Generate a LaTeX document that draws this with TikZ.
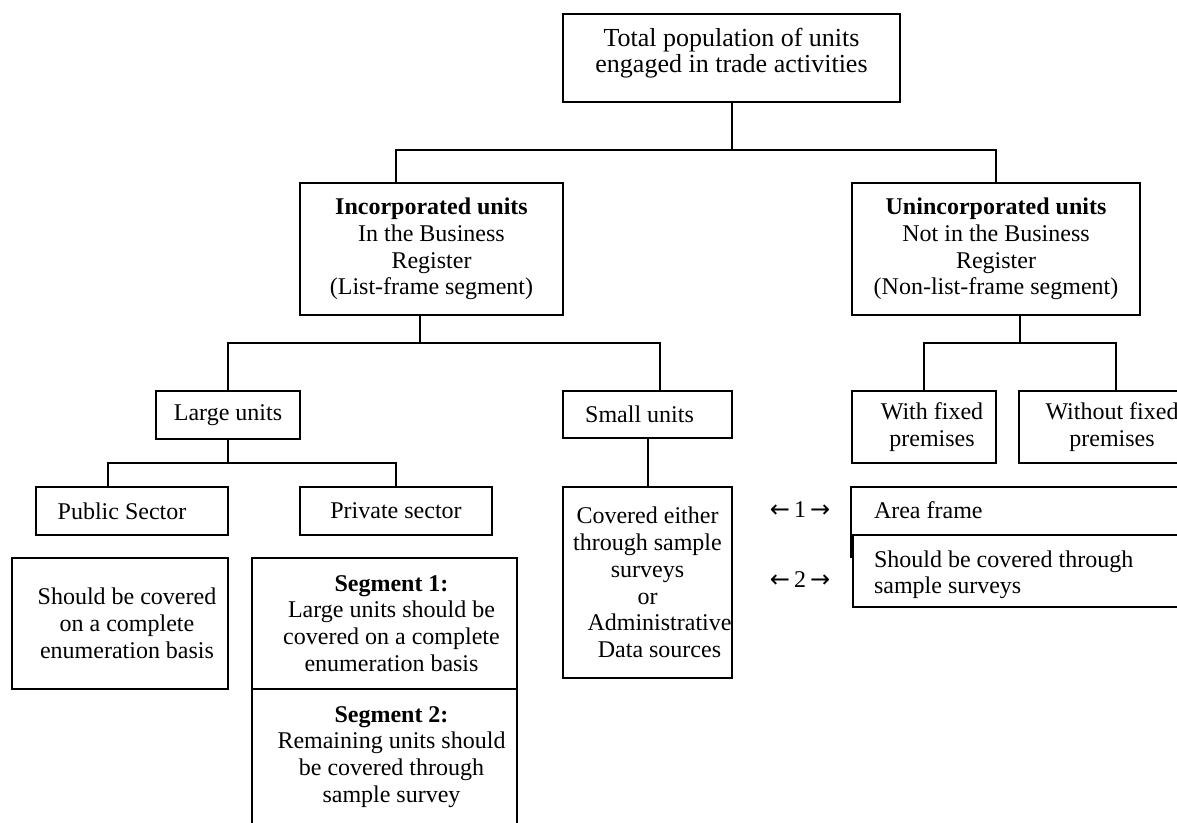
\documentclass[tikz,border=0pt]{standalone}
\usepackage{fontspec}
\setmainfont{Liberation Serif}
\newfontfamily\arrowfont{DejaVu Sans}
\begin{document}
\begin{tikzpicture}[x=0.5pt,y=-0.5pt,line width=1pt,
  box/.style={draw,line width=1pt,inner sep=0pt,align=center,fill=white,
    font=\fontsize{12}{13.4}\selectfont},
  txt/.style={inner sep=0pt,font=\fontsize{12}{13.4}\selectfont},
  conn/.style={line width=1pt}]
\useasboundingbox (0,0) rectangle (1177,823);
\clip (0,0) rectangle (1177,823);

% level 0
\node[box,minimum width=168.5pt,minimum height=44pt,text depth=7.8pt,
  font=\fontsize{13}{13}\selectfont] (top) at (731.5,58)
  {Total population of units\\engaged in trade activities};

% level 1
\node[box,minimum width=131.5pt,minimum height=66pt] (inc) at (431.5,249)
  {\textbf{Incorporated units}\\In the Business\\Register\\(List-frame segment)};
\node[box,minimum width=144pt,minimum height=66pt] (uninc) at (996,249)
  {\textbf{Unincorporated units}\\Not in the Business\\Register\\(Non-list-frame segment)};

% level 2
\node[box,minimum width=72pt,minimum height=24pt] (large) at (228,415) {Large units};
\node[box,minimum width=84.5pt,minimum height=23.5pt] (small) at (647.5,414.5) {Small units\hspace*{8pt}};
\node[box,minimum width=72pt,minimum height=36pt] (withf) at (924,427)
  {\hspace*{8pt}With fixed\\\hspace*{8pt}premises};
\node[box,minimum width=93pt,minimum height=36pt] (withoutf) at (1112,427)
  {Without fixed\\premises};

% level 3
\node[box,minimum width=96pt,minimum height=24pt] (public) at (132,511) {Public Sector\hspace*{10pt}};
\node[box,minimum width=96pt,minimum height=24pt] (private) at (396,511) {Private sector};
\node[box,minimum width=84.5pt,minimum height=95.5pt] (covered) at (647.5,582.5)
  {Covered either\\through sample\\surveys\\or\\\hspace*{12pt}Administrative\\\hspace*{12pt}Data sources};

% level 4
\node[box,minimum width=108pt,minimum height=65.5pt] (should) at (120,623.5)
  {\hspace*{7pt}Should be covered\\\hspace*{7pt}on a complete\\\hspace*{7pt}enumeration basis};
\node[box,minimum width=132.5pt,minimum height=65.5pt] (seg1) at (384.5,623.5)
  {\hspace*{7pt}\textbf{Segment 1:}\\\hspace*{7pt}Large units should be\\\hspace*{7pt}covered on a complete\\\hspace*{7pt}enumeration basis};
\node[box,minimum width=132.5pt,minimum height=68pt] (seg2) at (384.5,757)
  {\hspace*{7pt}\textbf{Segment 2:}\\\hspace*{7pt}Remaining units should\\\hspace*{7pt}be covered through\\\hspace*{7pt}sample survey};

% right-hand frames
\node[box,minimum width=174.5pt,minimum height=35pt] (area) at (1025.5,522) {};
\node[box,minimum width=173.5pt,minimum height=36pt] (svy) at (1026.5,571) {};
\node[txt,anchor=base west] (areatxt) at (873,518) {Area frame};
\node[txt,anchor=base west] (svytxt1) at (873,567) {Should be covered through};
\begin{scope}
  \clip (855,575) rectangle (1177,598);
  \node[txt,anchor=base west] (svytxt2) at (873,593) {sample surveys};
\end{scope}
\node[txt] (arr1) at (800,510) {{\arrowfont ←}\,1\,{\arrowfont →}};
\node[txt] (arr2) at (800,580) {{\arrowfont ←}\,2\,{\arrowfont →}};

% connectors
\coordinate (b1L) at (396,150);
\coordinate (b1R) at (996,150);
\draw[conn] (top.south) -- (top.south |- b1L);
\draw[conn] (b1L |- inc.north) -- (b1L) -- (b1R) -- (uninc.north);

\coordinate (b2) at (420,343);
\coordinate (b2L) at (228,343);
\coordinate (b2R) at (660,343);
\draw[conn] (b2 |- inc.south) -- (b2);
\draw[conn] (large.north) -- (b2L) -- (b2R) -- (b2R |- small.north);

\coordinate (b3L) at (108,463);
\coordinate (b3R) at (396,463);
\draw[conn] (large.south) -- (large.south |- b3L);
\draw[conn] (b3L |- public.north) -- (b3L) -- (b3R) -- (private.north);

\draw[conn] (small.south) -- (covered.north);

\coordinate (b4) at (1020,343);
\coordinate (b4L) at (924,343);
\coordinate (b4R) at (1116,343);
\draw[conn] (b4 |- uninc.south) -- (b4);
\draw[conn] (withf.north) -- (b4L) -- (b4R) -- (b4R |- withoutf.north);
\end{tikzpicture}
\end{document}
